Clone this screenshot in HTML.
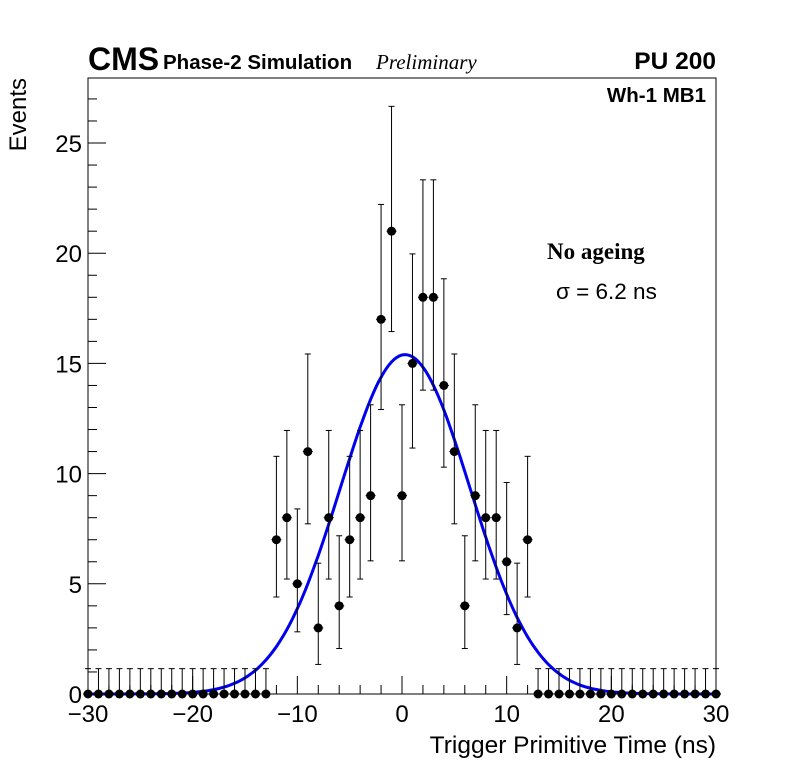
<!DOCTYPE html>
<html><head><meta charset="utf-8"><style>body{margin:0;background:#fff}svg{display:block}</style></head>
<body>
<svg id="chart" width="796" height="772" xmlns="http://www.w3.org/2000/svg" font-family="Liberation Sans, sans-serif">
<rect width="796" height="772" fill="#fff"/>
<g id="frame"></g>
<g id="marks"></g>
<text x="88" y="70" font-size="32" font-weight="bold">CMS</text>
<text x="163" y="69" font-size="20.5" font-weight="bold">Phase-2 Simulation</text>
<text x="376" y="69" font-size="21" font-style="italic" font-family="Liberation Serif, serif">Preliminary</text>
<text x="716" y="69" font-size="24.5" font-weight="bold" text-anchor="end">PU 200</text>
<text x="706" y="102" font-size="20.5" font-weight="bold" text-anchor="end">Wh-1 MB1</text>
<text x="547" y="259" font-size="23" font-weight="bold" font-family="Liberation Serif, serif">No ageing</text>
<text x="556" y="299" font-size="22.5">σ = 6.2 ns</text>
<text x="716" y="753" font-size="24.5" text-anchor="end">Trigger Primitive Time (ns)</text>
<text transform="translate(26,78) rotate(-90)" font-size="24" text-anchor="end">Events</text>
</svg>
<script>
const xVals=[];for(let i=-30;i<=30;i++)xVals.push(i);
const counts=[0,0,0,0,0,0,0,0,0,0,0,0,0,0,0,0,0,0,
7,8,5,11,3,8,4,7,8,9,17,21,9,15,18,18,14,11,4,9,8,8,6,3,7,
0,0,0,0,0,0,0,0,0,0,0,0,0,0,0,0,0,0];
const xTicks=[-30,-20,-10,0,10,20,30];
const yTicks=[0,5,10,15,20,25];
const fitAmp=15.4, fitMean=0.3, fitSigma=6.2;
const X0=88,X1=716,Y0=694,Y1=78,xmin=-30,xmax=30,ymin=0,ymax=27.95;
const sx=v=>X0+(v-xmin)/(xmax-xmin)*(X1-X0);
const sy=v=>Y0-(v-ymin)/(ymax-ymin)*(Y0-Y1);
const NS="http://www.w3.org/2000/svg";
function mk(t,a,p){const e=document.createElementNS(NS,t);for(const k in a)e.setAttribute(k,a[k]);p.appendChild(e);return e;}
const fr=document.getElementById('frame'),mg=document.getElementById('marks');
const box=mk('rect',{x:X0,y:Y1,width:X1-X0,height:Y0-Y1,fill:'none',stroke:'#000','stroke-width':1},fr);


for(let v=-30;v<=30;v+=2){const maj=v%10===0;const l=mk('line',{x1:sx(v),x2:sx(v),y1:Y0,y2:Y0-(maj?18:9),stroke:'#000'},fr);

}
xTicks.forEach(v=>{const t=mk('text',{x:sx(v),y:Y0+28,'font-size':24,'text-anchor':'middle'},fr);t.textContent=(v<0?'\u2212'+(-v):v);

});
for(let v=0;v<=27;v++){const maj=v%5===0;const l=mk('line',{x1:X0,x2:X0+(maj?18:9),y1:sy(v),y2:sy(v),stroke:'#000'},fr);

}
yTicks.forEach(v=>{const t=mk('text',{x:X0-6,y:sy(v)+9,'font-size':24,'text-anchor':'end'},fr);t.textContent=v;

});
let d='';for(let x=-30;x<=30.001;x+=0.25){const y=fitAmp*Math.exp(-0.5*((x-fitMean)/fitSigma)**2);d+=(d?'L':'M')+sx(x).toFixed(1)+','+sy(y).toFixed(1);}
const fit=mk('path',{d:d,fill:'none',stroke:'#0000ee','stroke-width':3},mg);


xVals.forEach((x,i)=>{const n=counts[i];const up=n===0?1.15:n+Math.sqrt(n+0.75)+1;const lo=n===0?0:Math.max(0,n-Math.sqrt(n-0.25));
const cx=sx(x),cy=sy(n);
const g=mk('g',{},mg);


mk('line',{x1:cx,x2:cx,y1:sy(up),y2:sy(lo),stroke:'#000'},g);
mk('line',{x1:cx-3,x2:cx+3,y1:sy(up),y2:sy(up),stroke:'#000'},g);
if(n>0)mk('line',{x1:cx-3,x2:cx+3,y1:sy(lo),y2:sy(lo),stroke:'#000'},g);
mk('line',{x1:cx-5,x2:cx+5,y1:cy,y2:cy,stroke:'#000'},g);
mk('circle',{cx:cx,cy:cy,r:4.5,fill:'#000'},g);});
</script>
</body></html>
